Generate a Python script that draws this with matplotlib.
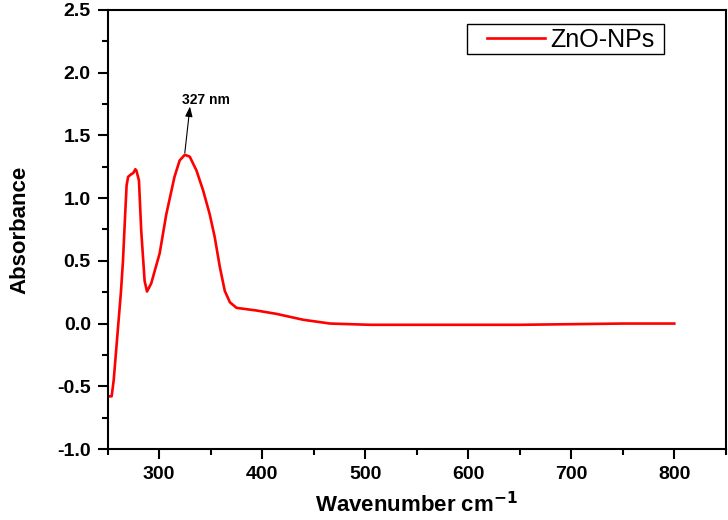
import matplotlib
matplotlib.use('Agg')
import matplotlib.pyplot as plt
from matplotlib.ticker import MultipleLocator
from matplotlib.patches import Rectangle

plt.rcParams['font.family'] = ['Liberation Sans', 'DejaVu Sans']
plt.rcParams['axes.unicode_minus'] = False

wavelength = [250, 254, 256, 260, 263, 265, 267, 268.5, 270, 273, 275, 277, 278,
              280.5, 282.7, 286, 288.3, 292.4, 300.6, 307, 315, 320, 325, 329.8,
              336.3, 342.8, 349.2, 354, 359, 363.8, 368.7, 375.2, 394.6, 414, 440,
              466, 505, 550, 600, 650, 700, 750, 800]
absorbance = [-0.58, -0.58, -0.45, -0.05, 0.25, 0.5, 0.85, 1.1, 1.17, 1.19, 1.2, 1.23, 1.22,
              1.14, 0.74, 0.34, 0.255, 0.32, 0.56, 0.87, 1.17, 1.30, 1.345, 1.33,
              1.22, 1.06, 0.87, 0.69, 0.45, 0.26, 0.17, 0.125, 0.104, 0.077, 0.03,
              0.0, -0.01, -0.01, -0.01, -0.01, -0.005, 0.0, 0.0]

fig = plt.figure(figsize=(7.28, 5.2), dpi=100)
ax = fig.add_axes([0.1477, 0.1365, 0.8493, 0.8445])

ax.plot(wavelength, absorbance, color='#ff0000', lw=1.9, label='ZnO-NPs')

# arrow from peak up to the label
ax.annotate('', xy=(330, 1.73), xytext=(325, 1.36),
            arrowprops=dict(arrowstyle='-|>,head_length=0.6,head_width=0.22',
                            lw=0.8, color='black', shrinkA=0, shrinkB=0))
ax.text(322, 1.78, '327 nm', fontsize=10, fontweight='bold', ha='left', va='center')

ax.set_xlim(250, 850)
ax.set_ylim(-1.0, 2.5)
ax.set_xticks([300, 400, 500, 600, 700, 800])
ax.xaxis.set_minor_locator(MultipleLocator(50))
ax.yaxis.set_major_locator(MultipleLocator(0.5))
ax.yaxis.set_minor_locator(MultipleLocator(0.25))
ax.tick_params(which='major', direction='out', length=7, width=1.5, labelsize=14, pad=5)
ax.tick_params(which='minor', direction='out', length=4.5, width=1.5)
for lab in ax.get_xticklabels() + ax.get_yticklabels():
    lab.set_fontweight('bold')
for s in ax.spines.values():
    s.set_linewidth(1.5)

ax.set_xlabel('Wavenumber cm$^{\\mathbf{-1}}$', fontsize=16, fontweight='bold')
ax.set_ylabel('Absorbance', fontsize=16, fontweight='bold')
ax.xaxis.set_label_coords(0.5, -0.098)
ax.yaxis.set_label_coords(-0.125, 0.5)

# legend: text + handle, with a hand-sized frame like the original
leg = ax.legend(loc='center right', bbox_to_anchor=(0.885, 0.932), fontsize=18,
                frameon=False, handlelength=2.35, borderpad=0,
                handletextpad=0.2, borderaxespad=0)
ax.add_patch(Rectangle((0.582, 0.900), 0.3185, 0.068, transform=ax.transAxes,
                       fill=False, lw=1.0, edgecolor='black'))

fig.savefig('out.png', dpi=100)
